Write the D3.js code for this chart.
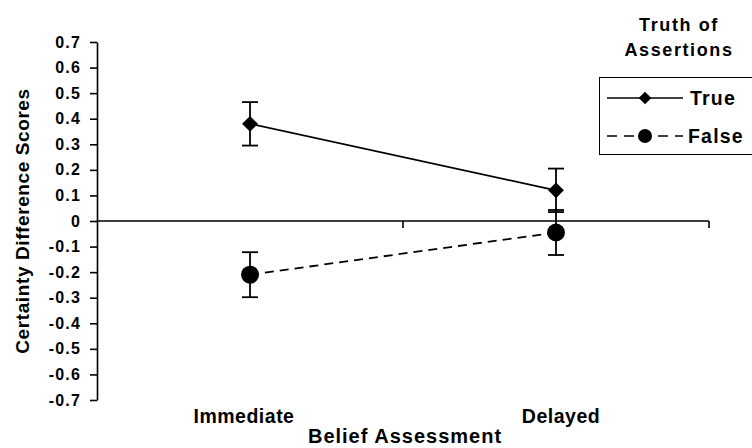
<!DOCTYPE html>
<html lang="en">
<head>
<meta charset="utf-8" />
<title>Certainty Difference Scores</title>
<script src="https://cdn.jsdelivr.net/npm/d3@7"></script>
<style>
    body { margin: 0; background: #fff; }
    text { font-family: "Liberation Sans", Arial, sans-serif; font-weight: bold; fill: #000; }
    .y-axis path, .y-axis line { stroke: #000; stroke-width: 1.6px; }
</style>
</head>
<body>
<script>

    let categories = ['Immediate', 'Delayed'];
    let trueValues = [0.38, 0.12];
    let trueErrors = [0.085, 0.085];
    let falseValues = [-0.21, -0.045];
    let falseErrors = [0.088, 0.088];
    let yTicks = [0.7, 0.6, 0.5, 0.4, 0.3, 0.2, 0.1, 0, -0.1, -0.2, -0.3, -0.4, -0.5, -0.6, -0.7];

    let series = [
        { name: 'True', values: trueValues, errors: trueErrors, marker: 'diamond', dash: null },
        { name: 'False', values: falseValues, errors: falseErrors, marker: 'circle', dash: '9,6' }
    ];

    let width = 752, height = 448;
    let plot = { left: 97, right: 709, top: 42, bottom: 400 };

    let svg = d3.select('body').append('svg')
        .attr('width', width)
        .attr('height', height);

    let x = d3.scaleBand()
        .domain(categories)
        .range([plot.left, plot.right]);

    let y = d3.scaleLinear()
        .domain([-0.7, 0.7])
        .range([plot.bottom, plot.top]);

    // y axis
    let yAxisG = svg.append('g')
        .attr('class', 'y-axis')
        .attr('transform', `translate(${plot.left},0)`)
        .call(d3.axisLeft(y).tickValues(yTicks).tickSize(7).tickSizeOuter(0).tickPadding(9)
            .tickFormat(d => d === 0 ? '0' : d3.format('.1f')(d).replace('−', '-')));
    yAxisG.attr('font-size', null).attr('font-family', null);
    yAxisG.selectAll('text')
        .style('font-size', '16px')
        .style('letter-spacing', '1.2px');

    // x axis line at zero with ticks between categories
    let zeroY = y(0);
    svg.append('line')
        .attr('x1', plot.left).attr('x2', plot.right)
        .attr('y1', zeroY).attr('y2', zeroY)
        .attr('stroke', '#000').attr('stroke-width', 1.6);

    let boundaries = categories.map(c => x(c) + x.bandwidth());
    svg.selectAll('.x-tick')
        .data(boundaries)
        .enter().append('line')
        .attr('x1', d => d).attr('x2', d => d)
        .attr('y1', zeroY).attr('y2', zeroY + 7)
        .attr('stroke', '#000').attr('stroke-width', 1.6);

    // category labels
    svg.selectAll('.cat-label')
        .data(categories)
        .enter().append('text')
        .attr('x', (d, i) => x(d) + x.bandwidth() / 2 + (i === 0 ? -6 : 5))
        .attr('y', 423)
        .attr('text-anchor', 'middle')
        .style('font-size', '19.5px')
        .style('letter-spacing', '0.5px')
        .text(d => d);

    svg.append('text')
        .attr('x', 405).attr('y', 443)
        .attr('text-anchor', 'middle')
        .style('font-size', '20px')
        .style('letter-spacing', '1px')
        .text('Belief Assessment');

    svg.append('text')
        .attr('transform', `translate(29,${(plot.top + plot.bottom) / 2}) rotate(-90)`)
        .attr('text-anchor', 'middle')
        .style('font-size', '19px')
        .style('letter-spacing', '0.6px')
        .text('Certainty Difference Scores');

    let cx = d => x(d) + x.bandwidth() / 2;

    function drawMarker(g, type, px, py) {
        if (type === 'diamond') {
            g.append('path')
                .attr('d', d3.symbol().type(d3.symbolSquare).size(125)())
                .attr('transform', `translate(${px},${py}) rotate(45)`)
                .attr('fill', '#000');
        } else {
            g.append('circle')
                .attr('cx', px).attr('cy', py).attr('r', 9)
                .attr('fill', '#000');
        }
    }

    series.forEach(s => {
        let g = svg.append('g');
        let pts = categories.map((c, i) => ({ c: c, v: s.values[i], e: s.errors[i] }));

        // error bars
        pts.forEach(p => {
            let px = cx(p.c);
            g.append('line')
                .attr('x1', px).attr('x2', px)
                .attr('y1', y(p.v + p.e)).attr('y2', y(p.v - p.e))
                .attr('stroke', '#000').attr('stroke-width', 1.8);
            [p.v + p.e, p.v - p.e].forEach(v => {
                g.append('line')
                    .attr('x1', px - 8).attr('x2', px + 8)
                    .attr('y1', y(v)).attr('y2', y(v))
                    .attr('stroke', '#000').attr('stroke-width', 1.8);
            });
        });

        g.append('path')
            .datum(pts)
            .attr('d', d3.line().x(d => cx(d.c)).y(d => y(d.v)))
            .attr('fill', 'none')
            .attr('stroke', '#000')
            .attr('stroke-width', 1.8)
            .attr('stroke-dasharray', s.dash);

        pts.forEach(p => drawMarker(g, s.marker, cx(p.c), y(p.v)));
    });

    // legend
    svg.append('text')
        .attr('x', 679).attr('y', 31)
        .attr('text-anchor', 'middle')
        .style('font-size', '18px')
        .style('letter-spacing', '1.6px')
        .text('Truth of');
    svg.append('text')
        .attr('x', 679).attr('y', 56)
        .attr('text-anchor', 'middle')
        .style('font-size', '18px')
        .style('letter-spacing', '1.6px')
        .text('Assertions');

    svg.append('rect')
        .attr('x', 599.5).attr('y', 77.5)
        .attr('width', 160).attr('height', 77)
        .attr('fill', 'none')
        .attr('stroke', '#000')
        .attr('stroke-width', 1);

    let legend = svg.selectAll('.legend-item')
        .data(series)
        .enter().append('g')
        .attr('transform', (d, i) => `translate(0,${98 + i * 38})`);

    legend.append('line')
        .attr('x1', 607).attr('x2', 683)
        .attr('y1', 0).attr('y2', 0)
        .attr('stroke', '#000').attr('stroke-width', 1.6)
        .attr('stroke-dasharray', d => d.dash ? '10,7' : null);

    legend.each(function (d) {
        let g = d3.select(this);
        if (d.marker === 'diamond') {
            g.append('path')
                .attr('d', d3.symbol().type(d3.symbolSquare).size(80)())
                .attr('transform', 'translate(645,0) rotate(45)')
                .attr('fill', '#000');
        } else {
            g.append('circle').attr('cx', 645).attr('cy', 0).attr('r', 7).attr('fill', '#000');
        }
    });

    legend.append('text')
        .attr('x', d => d.name === 'True' ? 690 : 688)
        .attr('y', 7)
        .style('font-size', '19.5px')
        .style('letter-spacing', '1.2px')
        .text(d => d.name);

</script>
</body>
</html>
